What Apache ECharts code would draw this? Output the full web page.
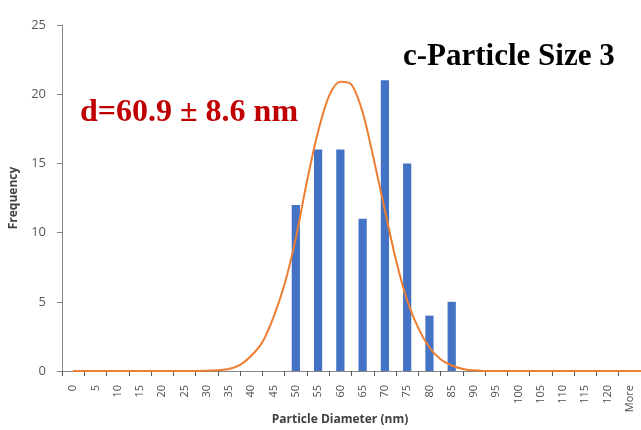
<!DOCTYPE html>
<html>
<head>
<meta charset="utf-8">
<script src="https://cdn.jsdelivr.net/npm/echarts@6/dist/echarts.min.js"></script>
<style>
html, body { margin: 0; padding: 0; background: #fff; }
#chart { width: 641px; height: 430px; }
</style>
</head>
<body>
<div id="chart"></div>
<script>
// 粒径分布 - 直方图 + 拟合曲线
const categories = ['0','5','10','15','20','25','30','35','40','45','50','55','60','65','70','75','80','85','90','95','100','105','110','115','120','More'];
const frequency = [0,0,0,0,0,0,0,0,0,0,12,16,16,11,21,15,4,5,0,0,0,0,0,0,0,0];
// 拟合曲线
const curveX = [0,25,30,32.5,35,37.5,40,42.5,45,47.5,50,52.5,55,57.5,60,62.5,65,67.5,70,72.5,75,77.5,80,82.5,85,87.5,90,92.5,95,127.5];
const curveY = [0,0,0.02,0.06,0.15,0.45,1.1,2.1,3.9,6.3,9.6,13.7,17.3,19.9,20.9,20.7,18.7,15.3,11.6,8.0,5.1,3.1,1.7,0.85,0.4,0.15,0.05,0,0,0];
const yTicks = [0, 25, 5]; // min, max, interval

let myChart = echarts.init(document.getElementById('chart'));
let curveData = curveX.map((x, i) => [x, curveY[i]]);

myChart.setOption({
  animation: false,
  grid: { left: 61, right: -7, top: 25, bottom: 59 },
  xAxis: [{
    type: 'category',
    data: categories,
    boundaryGap: true,
    axisLine: { lineStyle: { color: '#868686', width: 1 } },
    axisTick: { show: true, length: 5, lineStyle: { color: '#595959' } },
    axisLabel: {
      rotate: 90, interval: 0, margin: 14,
      color: '#4d4d4d', fontSize: 11, fontFamily: 'Open Sans'
    }
  }, {
    type: 'value',
    min: -2.5, max: 127.5,
    show: false
  }],
  yAxis: {
    type: 'value',
    min: yTicks[0], max: yTicks[1], interval: yTicks[2],
    name: 'Frequency',
    nameLocation: 'middle',
    nameRotate: 90,
    nameGap: 42,
    nameTextStyle: { color: '#404040', fontSize: 12, fontWeight: 'bold', fontFamily: 'Open Sans' },
    axisLine: { show: true, onZero: false, lineStyle: { color: '#868686', width: 1 } },
    axisTick: { show: true, length: 5, lineStyle: { color: '#868686' } },
    splitLine: { show: false },
    axisLabel: { color: '#595959', fontSize: 13, margin: 16, fontFamily: 'Open Sans' }
  },
  series: [{
    type: 'bar',
    data: frequency,
    barWidth: '37%',
    itemStyle: { color: '#4472c4' }
  }, {
    type: 'line',
    xAxisIndex: 1,
    data: curveData,
    smooth: 0.3,
    showSymbol: false,
    lineStyle: { color: '#ed7d31', width: 2 },
    z: 3
  }],
  graphic: [{
    type: 'text',
    style: {
      x: 340, y: 420, text: 'Particle Diameter (nm)',
      textAlign: 'center', textVerticalAlign: 'middle',
      font: 'bold 12px "Open Sans"', fill: '#404040'
    }
  }, {
    type: 'text',
    style: {
      x: 403, y: 57, text: 'c-Particle Size 3',
      textAlign: 'left', textVerticalAlign: 'middle',
      font: 'bold 31px "Liberation Serif"', fill: '#000'
    }
  }, {
    type: 'text',
    style: {
      x: 80, y: 113, text: 'd=60.9 ± 8.6 nm',
      textAlign: 'left', textVerticalAlign: 'middle',
      font: 'bold 32px "Liberation Serif"', fill: '#c00000'
    }
  }]
});
</script>
</body>
</html>
